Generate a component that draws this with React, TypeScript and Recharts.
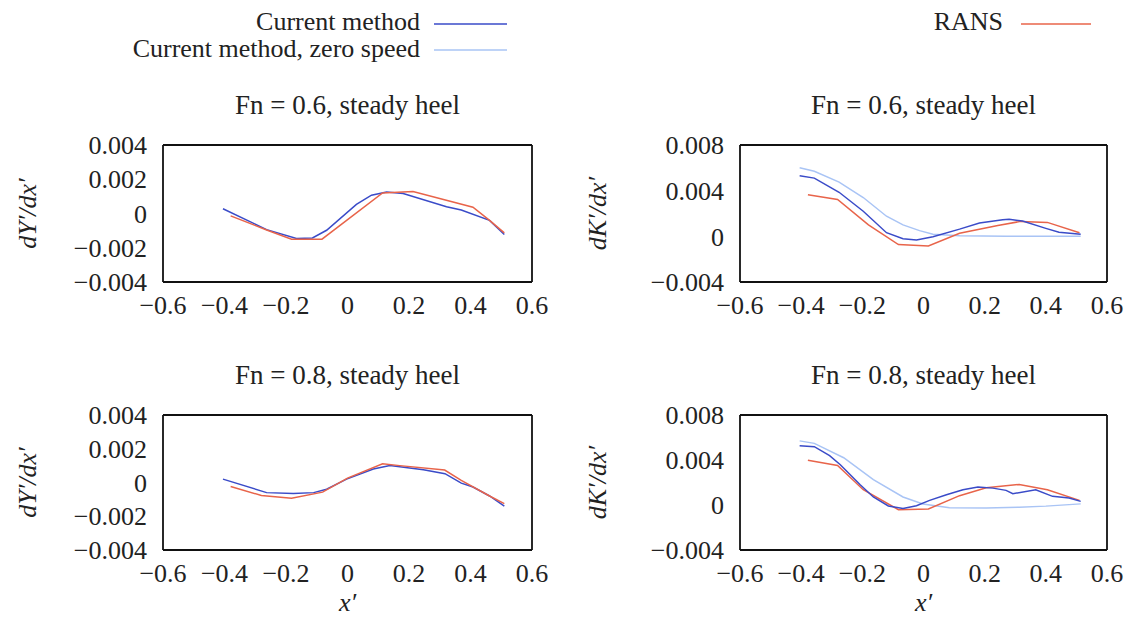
import { Line, LineChart, XAxis, YAxis } from "recharts";

const serif = '"Liberation Serif", "DejaVu Serif", serif';
const ink = "#222";
const frame = "#111";

const CUR = "#3a4bc8";
const ZERO = "#a9c4f5";
const RANS = "#e8644a";

const xTicks = [-0.6, -0.4, -0.2, 0, 0.2, 0.4, 0.6];
const yTicksY = [-0.004, -0.002, 0, 0.002, 0.004];
const yTicksK = [-0.004, 0, 0.004, 0.008];

type Pt = [number, number];

// Fn = 0.6, dY'/dx'
const y06Current: Pt[] = [
  [-0.405, 0.00028], [-0.263, -0.00094], [-0.166, -0.00146], [-0.114, -0.00143],
  [-0.068, -0.00098], [0.029, 0.00053], [0.078, 0.00107], [0.127, 0.00126],
  [0.181, 0.00117], [0.322, 0.00039], [0.37, 0.0002], [0.462, -0.0004], [0.51, -0.00123],
];
const y06Rans: Pt[] = [
  [-0.38, -0.00014], [-0.263, -0.00096], [-0.182, -0.0015], [-0.083, -0.0015],
  [0.114, 0.0012], [0.213, 0.00128], [0.408, 0.00037], [0.462, -0.0004], [0.51, -0.00113],
];

// Fn = 0.6, dK'/dx'
const k06Current: Pt[] = [
  [-0.405, 0.0053], [-0.357, 0.0051], [-0.276, 0.00386], [-0.197, 0.0022],
  [-0.121, 0.00032], [-0.067, -0.00021], [-0.023, -0.00033], [0.031, -0.00003],
  [0.118, 0.00063], [0.183, 0.00117], [0.259, 0.00146], [0.28, 0.0015],
  [0.324, 0.00134], [0.4, 0.0007], [0.443, 0.00035], [0.514, 0.00018],
];
const k06Zero: Pt[] = [
  [-0.405, 0.006], [-0.357, 0.0057], [-0.276, 0.00475], [-0.197, 0.0034],
  [-0.121, 0.00176], [-0.067, 0.001], [-0.013, 0.0005], [0.031, 0.00018],
  [0.118, 0.00005], [0.27, 0.0], [0.38, 0.00001], [0.514, 0.0],
];
const k06Rans: Pt[] = [
  [-0.378, 0.00364], [-0.281, 0.00323], [-0.18, 0.001], [-0.082, -0.00072],
  [0.016, -0.00084], [0.118, 0.00027], [0.243, 0.00095], [0.318, 0.00131],
  [0.405, 0.00122], [0.51, 0.00032],
];

// Fn = 0.8, dY'/dx'
const y08Current: Pt[] = [
  [-0.405, 0.0002], [-0.263, -0.0006], [-0.176, -0.00065], [-0.11, -0.0006],
  [-0.068, -0.0004], [-0.003, 0.0002], [0.084, 0.0008], [0.138, 0.001],
  [0.247, 0.00076], [0.317, 0.00052], [0.37, -0.00004], [0.408, -0.00027],
  [0.462, -0.0008], [0.51, -0.0014],
];
const y08Rans: Pt[] = [
  [-0.38, -0.00024], [-0.28, -0.00077], [-0.182, -0.00093], [-0.081, -0.00057],
  [0.0, 0.00026], [0.114, 0.00111], [0.17, 0.001], [0.316, 0.00074],
  [0.37, 0.00012], [0.462, -0.0008], [0.51, -0.00125],
];

// Fn = 0.8, dK'/dx'
const k08Current: Pt[] = [
  [-0.405, 0.00527], [-0.357, 0.00518], [-0.307, 0.00438], [-0.272, 0.00358],
  [-0.207, 0.0018], [-0.164, 0.00071], [-0.115, -0.00009], [-0.067, -0.0003],
  [-0.023, -0.00006], [0.02, 0.00041], [0.075, 0.00091], [0.129, 0.00136],
  [0.178, 0.0016], [0.227, 0.0015], [0.27, 0.0013], [0.292, 0.001],
  [0.367, 0.00136], [0.422, 0.00077], [0.476, 0.00062], [0.514, 0.00032],
];
const k08Zero: Pt[] = [
  [-0.405, 0.0057], [-0.357, 0.00548], [-0.261, 0.0042], [-0.164, 0.00225],
  [-0.067, 0.00071], [-0.002, 0.00009], [0.085, -0.00024], [0.205, -0.00027],
  [0.313, -0.0002], [0.4, -0.0001], [0.514, 0.0001],
];
const k08Rans: Pt[] = [
  [-0.378, 0.00397], [-0.281, 0.00352], [-0.197, 0.00136], [-0.082, -0.00042],
  [0.016, -0.00036], [0.118, 0.00083], [0.205, 0.00154], [0.313, 0.00183],
  [0.405, 0.00136], [0.51, 0.00041],
];

const toRows = (pts: Pt[]) => pts.map(([x, y]) => ({ x, y }));

const fmtX = (v: number) =>
  Math.abs(v) < 1e-9 ? "0" : (v < 0 ? "\u2212" : "") + Math.abs(v).toFixed(1);
const fmtY = (v: number) =>
  Math.abs(v) < 1e-9 ? "0" : (v < 0 ? "\u2212" : "") + Math.abs(v).toFixed(3);
const blank = () => "";

const tickStyle = { fontFamily: serif, fontSize: 26, fill: ink };

interface Series {
  pts: Pt[];
  color: string;
}

interface PanelProps {
  left: number;
  top: number;
  width: number;
  height: number;
  yw: number;
  mr: number;
  xh: number;
  yTicks: number[];
  yDomain: [number, number];
  title: string;
  yLabel: string;
  labelX: number;
  xLabel?: boolean;
  series: Series[];
}

function Panel(p: PanelProps) {
  const mt = 25;
  const pw = p.width - p.yw - p.mr;
  // mirrored axes (labels blanked) give the closed frame with inward ticks on all four sides
  const frameX = { type: "number" as const, domain: [-0.6, 0.6], ticks: xTicks, interval: 0, mirror: true, height: 1, tickSize: 6, tickFormatter: blank, stroke: frame, strokeWidth: 1.8 };
  const frameY = { type: "number" as const, domain: p.yDomain, ticks: p.yTicks, interval: 0, mirror: true, width: 1, tickSize: 6, tickFormatter: blank, stroke: frame, strokeWidth: 1.8 };
  return (
    <div style={{ position: "absolute", left: p.left, top: p.top }}>
      <div
        style={{
          position: "absolute",
          left: p.yw,
          width: pw,
          top: -28,
          textAlign: "center",
          fontFamily: serif,
          fontSize: 27,
          color: ink,
          lineHeight: "26px",
          whiteSpace: "nowrap",
        }}
      >
        {p.title}
      </div>
      <LineChart width={p.width} height={p.height} margin={{ top: mt, right: p.mr, bottom: 0, left: 0 }}>
        <XAxis
          type="number"
          dataKey="x"
          domain={[-0.6, 0.6]}
          ticks={xTicks}
          interval={0}
          height={p.xh}
          axisLine={false}
          tickLine={false}
          tickSize={0}
          tickMargin={14}
          tickFormatter={fmtX}
          tick={tickStyle}
          label={
            p.xLabel
              ? {
                  content: ({ viewBox }: any) => (
                    <text
                      x={viewBox.x + viewBox.width / 2}
                      y={viewBox.y + 61}
                      textAnchor="middle"
                      fontFamily={serif}
                      fontSize={26}
                      fontStyle="italic"
                      fill={ink}
                    >
                      x′
                    </text>
                  ),
                }
              : undefined
          }
        />
        <XAxis xAxisId="frameBottom" orientation="bottom" {...frameX} />
        <XAxis xAxisId="frameTop" orientation="top" {...frameX} />
        <YAxis
          type="number"
          domain={p.yDomain}
          ticks={p.yTicks}
          interval={0}
          width={p.yw}
          axisLine={false}
          tickLine={false}
          tickSize={0}
          tickMargin={16}
          tickFormatter={fmtY}
          tick={tickStyle}
          label={{
            content: ({ viewBox }: any) => {
              const cx = p.labelX;
              const cy = viewBox.y + viewBox.height / 2;
              return (
                <text
                  x={cx}
                  y={cy}
                  dy={9}
                  transform={`rotate(-90, ${cx}, ${cy})`}
                  textAnchor="middle"
                  fontFamily={serif}
                  fontSize={26}
                  fontStyle="italic"
                  fill={ink}
                >
                  {p.yLabel}
                </text>
              );
            },
          }}
        />
        <YAxis yAxisId="frameLeft" orientation="left" {...frameY} />
        <YAxis yAxisId="frameRight" orientation="right" {...frameY} />
        {p.series.map((s, i) => (
          <Line
            key={i}
            data={toRows(s.pts)}
            dataKey="y"
            type="linear"
            stroke={s.color}
            strokeWidth={1.5}
            dot={false}
            isAnimationActive={false}
          />
        ))}
      </LineChart>
    </div>
  );
}

function LegendText({ label, right, top }: { label: string; right: number; top: number }) {
  return (
    <div
      style={{
        position: "absolute",
        right: 1128 - right,
        top,
        fontFamily: serif,
        fontSize: 26,
        lineHeight: "22px",
        color: ink,
        whiteSpace: "nowrap",
      }}
    >
      {label}
    </div>
  );
}

export default function App() {
  return (
    <div style={{ position: "absolute", left: 0, top: 0, width: 1128, height: 628, background: "#fff", overflow: "hidden" }}>
      <LegendText label="Current method" right={420} top={11} />
      <LegendText label="Current method, zero speed" right={420} top={38} />
      <LegendText label="RANS" right={1003} top={11} />
      <svg width={1128} height={60} style={{ position: "absolute", left: 0, top: 0 }}>
        <line x1={434} x2={507} y1={24} y2={24} stroke={CUR} strokeWidth={1.5} />
        <line x1={434} x2={507} y1={50} y2={50} stroke={ZERO} strokeWidth={1.5} />
        <line x1={1021} x2={1091} y1={24} y2={24} stroke={RANS} strokeWidth={1.5} />
      </svg>

      <Panel
        left={0} top={120} width={560} height={207} yw={163} mr={28} xh={45}
        yTicks={yTicksY} yDomain={[-0.004, 0.004]}
        title="Fn = 0.6, steady heel" yLabel="dY′/dx′" labelX={27}
        series={[{ pts: y06Current, color: CUR }, { pts: y06Rans, color: RANS }]}
      />
      <Panel
        left={560} top={120} width={568} height={207} yw={180} mr={21} xh={45}
        yTicks={yTicksK} yDomain={[-0.004, 0.008]}
        title="Fn = 0.6, steady heel" yLabel="dK′/dx′" labelX={37}
        series={[{ pts: k06Zero, color: ZERO }, { pts: k06Rans, color: RANS }, { pts: k06Current, color: CUR }]}
      />
      <Panel
        left={0} top={390} width={560} height={230} yw={163} mr={28} xh={70}
        yTicks={yTicksY} yDomain={[-0.004, 0.004]}
        title="Fn = 0.8, steady heel" yLabel="dY′/dx′" labelX={27} xLabel
        series={[{ pts: y08Current, color: CUR }, { pts: y08Rans, color: RANS }]}
      />
      <Panel
        left={560} top={390} width={568} height={230} yw={180} mr={21} xh={70}
        yTicks={yTicksK} yDomain={[-0.004, 0.008]}
        title="Fn = 0.8, steady heel" yLabel="dK′/dx′" labelX={37} xLabel
        series={[{ pts: k08Zero, color: ZERO }, { pts: k08Rans, color: RANS }, { pts: k08Current, color: CUR }]}
      />
    </div>
  );
}
